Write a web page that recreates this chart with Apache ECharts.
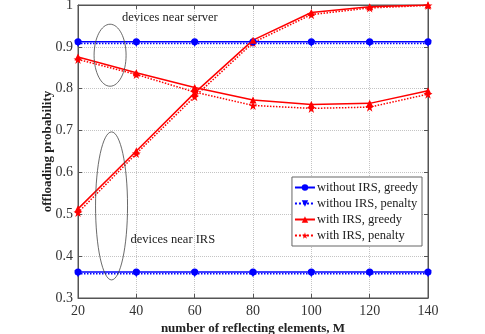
<!DOCTYPE html>
<html><head><meta charset="utf-8">
<script src="https://cdn.jsdelivr.net/npm/echarts@6/dist/echarts.min.js"></script>
<style>html,body{margin:0;padding:0;background:#fff}#c{width:485px;height:334px}</style>
</head><body><div id="c"></div>
<script>
var categories = [20, 40, 60, 80, 100, 120, 140];
var woGreedyServer = [0.912, 0.912, 0.912, 0.912, 0.912, 0.912, 0.912];
var woPenaltyServer = [0.908, 0.908, 0.908, 0.908, 0.908, 0.908, 0.908];
var woGreedyIRS = [0.362, 0.362, 0.362, 0.362, 0.362, 0.362, 0.362];
var woPenaltyIRS = [0.358, 0.358, 0.358, 0.358, 0.358, 0.358, 0.358];
var wGreedyServer = [0.876, 0.838, 0.803, 0.773, 0.762, 0.765, 0.795];
var wPenaltyServer = [0.870, 0.834, 0.792, 0.760, 0.753, 0.756, 0.787];
var wGreedyIRS = [0.513, 0.651, 0.790, 0.916, 0.982, 0.996, 1.0];
var wPenaltyIRS = [0.504, 0.645, 0.781, 0.910, 0.977, 0.993, 0.999];
var yTicks = [0.3, 0.4, 0.5, 0.6, 0.7, 0.8, 0.9, 1];

var STAR = 'path://M50,0 L61,35 L98,35 L68,57 L79,91 L50,70 L21,91 L32,57 L2,35 L39,35 Z';
var BLUE = '#0000ff', RED = '#ff0000';
function pairs(arr){ return categories.map(function(c,i){return [c, arr[i]];}); }
function ser(name, data, color, dotted, symbol, rot, size){
  return {name:name, type:'line', data:pairs(data), symbol:symbol, symbolSize:size, symbolRotate:rot||0,
    lineStyle:{color:color, width:1.5, type: dotted?'dotted':'solid'},
    itemStyle:{color:color}, animation:false, z: dotted?2:3};
}
var chart = echarts.init(document.getElementById('c'));
var F = '"Liberation Serif", "DejaVu Serif", serif';
chart.setOption({
  animation:false,
  grid:{left:78, right:57, top:5, bottom:36, show:true, borderColor:'#555', borderWidth:1, containLabel:false, outerBoundsMode:'none'},
  textStyle:{fontFamily:F},
  legend:{
    right:63, top:177, orient:'vertical', itemGap:3, itemWidth:20, itemHeight:8,
    backgroundColor:'#fff', borderColor:'#666', borderWidth:1, padding:[4,4,4,2],
    textStyle:{fontFamily:F, fontSize:12.5, color:'#222', padding:[0,0,0,-3]},
    data:['without IRS, greedy','withou IRS, penalty','with IRS, greedy','with IRS, penalty']
  },
  xAxis:[{type:'value', min:20, max:140, interval:20,
    name:'number of reflecting elements, M', nameLocation:'middle', nameGap:24, nameMoveOverlap:false,
    nameTextStyle:{fontFamily:F, fontWeight:'bold', fontSize:13, color:'#222'},
    axisLine:{lineStyle:{color:'#555'}}, axisTick:{inside:true, length:4, lineStyle:{color:'#555'}},
    axisLabel:{fontFamily:F, fontSize:14, color:'#333', margin:6},
    splitLine:{show:true, lineStyle:{color:'#c4c4c4', type:'dotted'}}},
    {type:'value', position:'top', min:20, max:140, interval:20,
    axisLine:{lineStyle:{color:'#555'}}, axisTick:{inside:true, length:4, lineStyle:{color:'#555'}},
    axisLabel:{show:false}, splitLine:{show:false}}],
  yAxis:[{type:'value', min:0.3, max:1, interval:0.1,
    name:'offloading probability', nameLocation:'middle', nameGap:24, nameMoveOverlap:false,
    nameTextStyle:{fontFamily:F, fontWeight:'bold', fontSize:13, color:'#222'},
    axisLine:{lineStyle:{color:'#555'}}, axisTick:{inside:true, length:4, lineStyle:{color:'#555'}},
    axisLabel:{fontFamily:F, fontSize:14, color:'#333', margin:5,
      formatter:function(v){ var r=Math.round(v*10)/10; return yTicks.indexOf(r)>=0 ? String(r) : ''; }},
    splitLine:{show:true, lineStyle:{color:'#c4c4c4', type:'dotted'}}},
    {type:'value', position:'right', min:0.3, max:1, interval:0.1,
    axisLine:{lineStyle:{color:'#555'}}, axisTick:{inside:true, length:4, lineStyle:{color:'#555'}},
    axisLabel:{show:false}, splitLine:{show:false}}],
  series:[
    ser('without IRS, greedy', woGreedyServer, BLUE, false, 'circle', 0, 7),
    ser('withou IRS, penalty', woPenaltyServer, BLUE, true, 'triangle', 180, 7),
    ser('without IRS, greedy', woGreedyIRS, BLUE, false, 'circle', 0, 7),
    ser('withou IRS, penalty', woPenaltyIRS, BLUE, true, 'triangle', 180, 7),
    ser('with IRS, greedy', wGreedyServer, RED, false, 'triangle', 0, 7),
    ser('with IRS, penalty', wPenaltyServer, RED, true, STAR, 0, 9),
    ser('with IRS, greedy', wGreedyIRS, RED, false, 'triangle', 0, 7),
    ser('with IRS, penalty', wPenaltyIRS, RED, true, STAR, 0, 9)
  ]
});
var p1 = chart.convertToPixel({gridIndex:0}, [31, 0.88]);
var p2 = chart.convertToPixel({gridIndex:0}, [31.5, 0.52]);
var t1 = chart.convertToPixel({gridIndex:0}, [51.5, 0.97]);
var t2 = chart.convertToPixel({gridIndex:0}, [52.5, 0.44]);
chart.setOption({graphic:[
  {type:'ellipse', shape:{cx:p1[0], cy:p1[1], rx:16, ry:31}, style:{fill:null, stroke:'#444', lineWidth:0.8}, z:10},
  {type:'ellipse', shape:{cx:p2[0], cy:p2[1], rx:16, ry:74}, style:{fill:null, stroke:'#444', lineWidth:0.8}, z:10},
  {type:'text', x:t1[0], y:t1[1], style:{text:'devices near server', fill:'#222', font:'12.5px "Liberation Serif", serif', textAlign:'center', textVerticalAlign:'middle'}, z:10},
  {type:'text', x:t2[0], y:t2[1], style:{text:'devices near IRS', fill:'#222', font:'12.5px "Liberation Serif", serif', textAlign:'center', textVerticalAlign:'middle'}, z:10}
]});
</script></body></html>
